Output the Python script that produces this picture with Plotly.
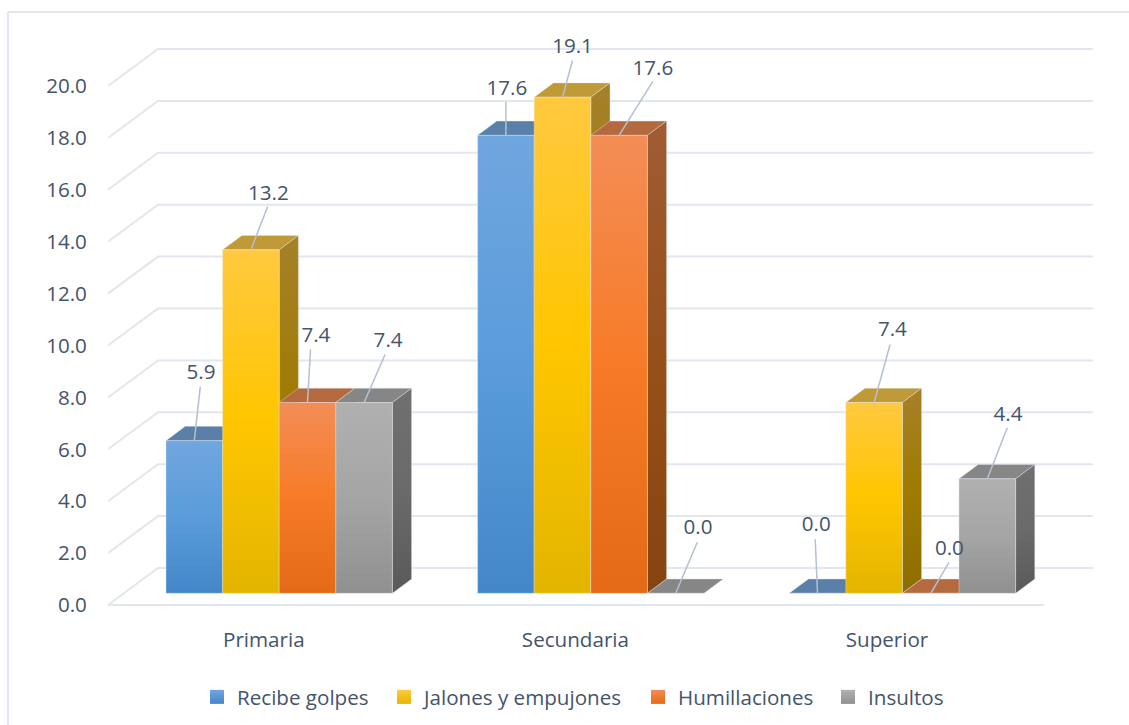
import plotly.graph_objects as go

# ---------- data ----------
categories = ["Primaria", "Secundaria", "Superior"]
recibe_golpes = [5.882, 17.647, 0.0]
jalones = [13.235, 19.118, 7.353]
humillaciones = [7.353, 17.647, 0.0]
insultos = [7.353, 0.0, 4.412]
series_names = ["Recibe golpes", "Jalones y empujones", "Humillaciones", "Insultos"]
y_ticks = [0, 2, 4, 6, 8, 10, 12, 14, 16, 18, 20]

# ---------- style / layout ----------
W, H = 1129, 725
L, R, T, B = 108, 1100, 20, 610      # plot area in page pixels
PX_X = 311.6                          # px per category
PX_Y = 25.95                          # px per value unit
TEXT = "#44546a"
GRID = "#e2e6ee"
FONT = "Open Sans"
FS = 20.6

def ux(p): return p / PX_X
def uy(p): return p / PX_Y

BAR_W = ux(56.6)
BAR_SHIFT = ux(15.4)
BASE = uy(11.7)
DX, DY = ux(19.2), uy(14.3)
WALL_DX, WALL_DY = ux(50), uy(37)
FLOOR_END = 2.505

FRONT = [["#70a6de", "#5a9cdb", "#4487c8"], ["#ffc93f", "#ffc600", "#e3b500"],
         ["#f38d56", "#f77b27", "#e36a16"], ["#b0b0b0", "#a5a5a5", "#909090"]]
SIDE = [["#4f7aa8", "#3a6ea5", "#2d5c8c"], ["#a5802a", "#9f7b00", "#8c6d00"],
        ["#a05c33", "#97501a", "#87440e"], ["#707070", "#6a6a6a", "#5a5a5a"]]
TOP = ["#5a7fa9", "#bf9a36", "#b5693f", "#868686"]
EDGE = "rgba(228,232,240,0.4)"

# label centre offsets and leader ends, px from the bar-top centre (dx, up)
LABEL_OFF = [[(6.7, 67), (17.5, 55), (8.4, 66), (24, 61)],
             [(1, 46), (10, 49), (33.7, 66), (22.3, 64)],
             [(-1.3, 67), (18.3, 72), (18.7, 43), (20.7, 63)]]
LEADER_OFF = [[(6, 54), (16.7, 43), (3, 53), (21, 48)],
              [(0, 33.5), (10, 36.7), (33.7, 54), (21.6, 51)],
              [(-2.3, 54), (16, 58), (18.3, 31), (20, 51)]]

fig = go.Figure()

def line(xs, ys, color, width):
    fig.add_trace(go.Scatter(x=xs, y=ys, mode="lines", line=dict(color=color, width=width),
                             showlegend=False, hoverinfo="skip"))

def face(xs, ys, fill=None, grad=None):
    kw = dict(fillcolor=fill) if fill else dict(fillgradient=dict(
        type="vertical", start=max(ys), stop=min(ys),
        colorscale=[[0, grad[0]], [0.5, grad[1]], [1, grad[2]]]))
    fig.add_trace(go.Scatter(x=xs, y=ys, mode="lines", fill="toself",
                             line=dict(color=EDGE, width=1), showlegend=False,
                             hoverinfo="skip", **kw))

# walls and floor
for v in y_ticks:
    line([-0.5, -0.5 + WALL_DX, 2.5 + WALL_DX], [v, v + WALL_DY, v + WALL_DY], GRID, 2)
line([-0.5, FLOOR_END], [0, 0], GRID, 2)

# bars, painted left to right
values = [recibe_golpes, jalones, humillaciones, insultos]
for c in range(len(categories)):
    for s in range(len(values)):
        v = values[s][c]
        x0 = c + BAR_SHIFT + (s - 2) * BAR_W
        x1 = x0 + BAR_W
        y0, y1 = BASE, BASE + v
        face([x0, x1, x1 + DX, x0 + DX, x0], [y1, y1, y1 + DY, y1 + DY, y1], fill=TOP[s])
        if v > 0:
            face([x1, x1 + DX, x1 + DX, x1, x1], [y0, y0 + DY, y1 + DY, y1, y0], grad=SIDE[s])
            face([x0, x1, x1, x0, x0], [y0, y0, y1, y1, y0], grad=FRONT[s])
        else:
            line([x0, x1], [y0, y0], EDGE, 1)

# leaders and value labels
lx, ly, lt = [], [], []
for c in range(len(categories)):
    for s in range(len(values)):
        v = values[s][c]
        xc = c + BAR_SHIFT + (s - 1.5) * BAR_W
        yt = BASE + v
        ldx, lup = LEADER_OFF[c][s]
        line([xc, xc + ux(ldx)], [yt, yt + uy(lup)], "#b4c0d2", 1.5)
        tdx, tup = LABEL_OFF[c][s]
        lx.append(xc + ux(tdx)); ly.append(yt + uy(tup)); lt.append(f"{v:.1f}")
fig.add_trace(go.Scatter(x=lx, y=ly, text=lt, mode="text", textposition="middle center",
                         textfont=dict(family=FONT, size=FS, color=TEXT),
                         showlegend=False, hoverinfo="skip"))

# legend
LEG_X = [197, 384, 638, 828]
legends = {}
for s, name in enumerate(series_names):
    key = "legend" if s == 0 else f"legend{s + 1}"
    fig.add_trace(go.Scatter(x=[None], y=[None], mode="markers", name=name, legend=key,
                             marker=dict(symbol="square", size=14, color=FRONT[s][0],
                                         gradient=dict(type="vertical", color=FRONT[s][2]))))
    legends[key] = dict(xref="container", yref="container", x=LEG_X[s] / W, y=1 - 697 / H,
                        xanchor="left", yanchor="middle", orientation="h",
                        bgcolor="rgba(0,0,0,0)", font=dict(family=FONT, size=FS, color=TEXT))

def px2paper_x(p): return (p - L) / (R - L)
def px2paper_y(p): return (B - p) / (B - T)

fig.update_layout(
    width=W, height=H, margin=dict(l=L, r=W - R, t=T, b=H - B),
    paper_bgcolor="white", plot_bgcolor="white",
    font=dict(family=FONT, size=FS, color=TEXT),
    xaxis=dict(range=[-0.5, -0.5 + (R - L) / PX_X], tickvals=list(range(len(categories))),
               ticktext=categories, ticks="outside", ticklen=11, tickcolor="rgba(0,0,0,0)",
               showgrid=False, zeroline=False, showline=False),
    yaxis=dict(range=[(605 - B) / PX_Y, (605 - T) / PX_Y], tickvals=y_ticks,
               tickformat=".1f", ticks="outside", ticklen=16, tickcolor="rgba(0,0,0,0)",
               showgrid=False, zeroline=False, showline=False),
    shapes=[
        dict(type="line", xref="paper", yref="paper", x0=px2paper_x(8), x1=px2paper_x(W),
             y0=px2paper_y(12), y1=px2paper_y(12), line=dict(color=GRID, width=2)),
        dict(type="line", xref="paper", yref="paper", x0=px2paper_x(8), x1=px2paper_x(8),
             y0=px2paper_y(12), y1=px2paper_y(H), line=dict(color=GRID, width=2)),
    ],
    **legends,
)

fig.write_html("out.html", config=dict(displayModeBar=False),
               post_script="document.body.style.margin='0';document.documentElement.style.overflow='hidden';")
